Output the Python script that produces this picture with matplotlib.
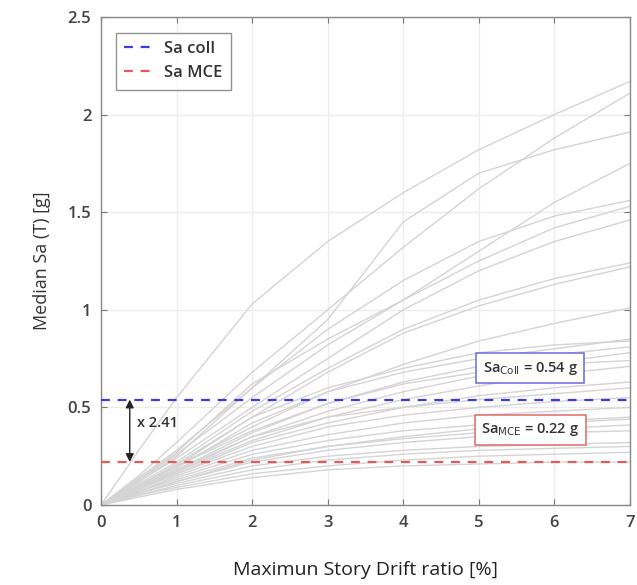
import matplotlib
matplotlib.use("Agg")
import matplotlib.pyplot as plt

# deriva (%) en la que se leen las curvas IDA
drift = [0, 0.5, 1, 2, 3, 4, 5, 6, 7]

# Sa mediana (g) de cada curva IDA en esos puntos
ida_curves = [
    [0, 0.28, 0.55, 1.03, 1.35, 1.60, 1.82, 2.00, 2.17],
    [0, 0.15, 0.32, 0.68, 1.00, 1.32, 1.62, 1.88, 2.11],
    [0, 0.14, 0.28, 0.60, 0.95, 1.45, 1.70, 1.82, 1.91],
    [0, 0.13, 0.26, 0.55, 0.82, 1.05, 1.30, 1.55, 1.75],
    [0, 0.12, 0.25, 0.60, 0.90, 1.15, 1.35, 1.48, 1.56],
    [0, 0.13, 0.27, 0.62, 0.85, 1.05, 1.25, 1.42, 1.53],
    [0, 0.12, 0.24, 0.50, 0.75, 1.00, 1.20, 1.35, 1.46],
    [0, 0.11, 0.22, 0.48, 0.70, 0.90, 1.05, 1.16, 1.24],
    [0, 0.10, 0.20, 0.45, 0.68, 0.88, 1.02, 1.13, 1.22],
    [0, 0.10, 0.20, 0.40, 0.58, 0.72, 0.84, 0.93, 1.01],
    [0, 0.09, 0.19, 0.42, 0.58, 0.68, 0.75, 0.80, 0.85],
    [0, 0.10, 0.21, 0.45, 0.60, 0.70, 0.78, 0.82, 0.84],
    [0, 0.10, 0.20, 0.38, 0.52, 0.63, 0.71, 0.77, 0.81],
    [0, 0.09, 0.18, 0.35, 0.48, 0.58, 0.66, 0.73, 0.78],
    [0, 0.09, 0.18, 0.37, 0.52, 0.62, 0.68, 0.72, 0.74],
    [0, 0.08, 0.17, 0.33, 0.45, 0.54, 0.61, 0.67, 0.71],
    [0, 0.08, 0.16, 0.32, 0.42, 0.50, 0.56, 0.60, 0.63],
    [0, 0.09, 0.17, 0.35, 0.45, 0.50, 0.54, 0.57, 0.60],
    [0, 0.08, 0.16, 0.30, 0.40, 0.46, 0.50, 0.53, 0.55],
    [0, 0.07, 0.15, 0.28, 0.36, 0.42, 0.46, 0.48, 0.50],
    [0, 0.07, 0.14, 0.26, 0.33, 0.38, 0.41, 0.43, 0.45],
    [0, 0.06, 0.12, 0.23, 0.30, 0.35, 0.39, 0.42, 0.44],
    [0, 0.07, 0.13, 0.24, 0.30, 0.34, 0.37, 0.39, 0.41],
    [0, 0.06, 0.12, 0.22, 0.28, 0.32, 0.35, 0.37, 0.38],
    [0, 0.06, 0.11, 0.20, 0.25, 0.28, 0.30, 0.31, 0.32],
    [0, 0.05, 0.10, 0.18, 0.23, 0.26, 0.28, 0.29, 0.30],
    [0, 0.05, 0.09, 0.16, 0.20, 0.23, 0.25, 0.26, 0.27],
    [0, 0.04, 0.08, 0.14, 0.18, 0.20, 0.21, 0.22, 0.22],
]

sa_coll = 0.54
sa_mce = 0.22
ratio = 2.41

plt.rcParams['font.family'] = ['Open Sans', 'DejaVu Sans']

fig = plt.figure(figsize=(6.37, 5.85), dpi=100)
ax = fig.add_axes([0.1586, 0.1368, 0.8304, 0.8342])

for curva in ida_curves:
    ax.plot(drift, curva, color='#d4d4d4', lw=1.0, zorder=1)

ax.axhline(sa_coll, color='#3b3be0', ls=(0, (4, 3.5)), lw=1.6, label='Sa coll', zorder=3)
ax.axhline(sa_mce, color='#e45a5a', ls=(0, (4, 3.5)), lw=1.6, label='Sa MCE', zorder=3)

# flecha doble entre ambos niveles
ax.annotate('', xy=(0.38, sa_coll), xytext=(0.38, sa_mce),
            arrowprops=dict(arrowstyle='<|-|>', color='#222222', lw=1.0,
                            mutation_scale=12, shrinkA=0, shrinkB=0))
ax.text(0.48, (sa_coll + sa_mce) / 2 + 0.04, f'x {ratio}', fontsize=10.5,
        color='#333333', fontweight='semibold', va='center')

ax.text(5.68, 0.70, r'Sa$_{\mathrm{Coll}}$ = %.2f g' % sa_coll, fontsize=10.5,
        fontweight='semibold', color='#333333', ha='center', va='center',
        bbox=dict(boxstyle='square,pad=0.45', fc='white', ec='#6a6ae0', lw=1.1), zorder=4)
ax.text(5.68, 0.385, r'Sa$_{\mathrm{MCE}}$ = %.2f g' % sa_mce, fontsize=10.5,
        fontweight='semibold', color='#333333', ha='center', va='center',
        bbox=dict(boxstyle='square,pad=0.45', fc='white', ec='#e06a6a', lw=1.1), zorder=4)

ax.set_xlim(0, 7)
ax.set_ylim(0, 2.5)
ax.set_xticks(range(0, 8))
ax.set_yticks([0, 0.5, 1, 1.5, 2, 2.5])
ax.set_yticklabels(['0', '0.5', '1', '1.5', '2', '2.5'])
ax.grid(True, color='#ececec', lw=1.0)
ax.set_axisbelow(True)
ax.tick_params(direction='in', top=True, right=True, length=4, width=0.8,
               color='#777777', labelsize=12, labelcolor='#444444', pad=7)
for lab in ax.get_xticklabels() + ax.get_yticklabels():
    lab.set_fontweight('semibold')
for sp in ax.spines.values():
    sp.set_color('#888888')
    sp.set_linewidth(1.0)

ax.set_xlabel('Maximun Story Drift ratio [%]', fontsize=14, color='#222222', labelpad=22)
ax.set_ylabel('Median Sa (T) [g]', fontsize=13, color='#333333', labelpad=12)

leg = ax.legend(loc='upper left', fontsize=12, frameon=True, fancybox=False,
                edgecolor='#777777', handlelength=1.6, borderpad=0.5,
                bbox_to_anchor=(0.012, 0.985))
leg.get_frame().set_linewidth(1.0)
for t in leg.get_texts():
    t.set_fontweight('semibold')
    t.set_color('#333333')

fig.savefig('out.png', dpi=100)
